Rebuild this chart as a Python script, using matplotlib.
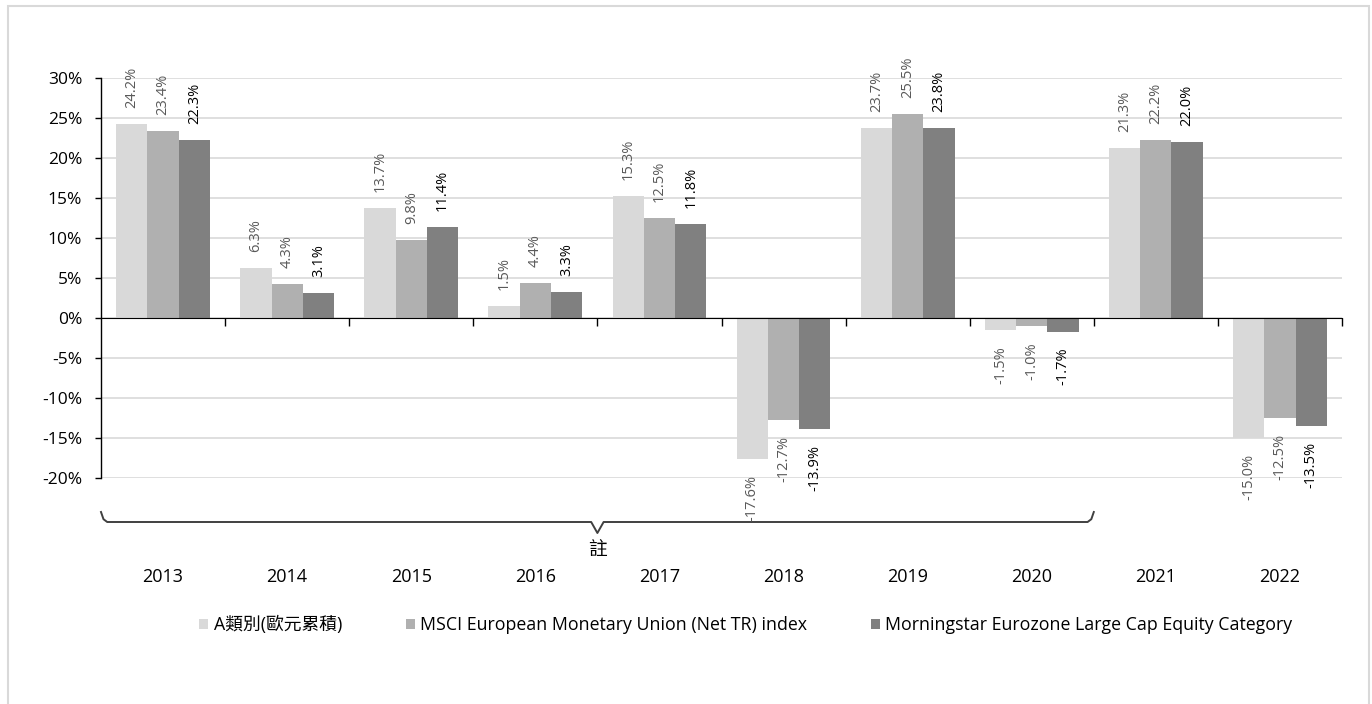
import numpy as np
import matplotlib.pyplot as plt
import matplotlib.transforms as mtransforms
from matplotlib.patches import Rectangle

plt.rcParams['font.family'] = ['Open Sans', 'Noto Sans CJK TC', 'DejaVu Sans']

years = ['2013', '2014', '2015', '2016', '2017', '2018', '2019', '2020', '2021', '2022']
fund_a = [24.2, 6.3, 13.7, 1.5, 15.3, -17.6, 23.7, -1.5, 21.3, -15.0]
msci = [23.4, 4.3, 9.8, 4.4, 12.5, -12.7, 25.5, -1.0, 22.2, -12.5]
morningstar = [22.3, 3.1, 11.4, 3.3, 11.8, -13.9, 23.8, -1.7, 22.0, -13.5]
series_names = ['A類別(歐元累積)', 'MSCI European Monetary Union (Net TR) index',
                'Morningstar Eurozone Large Cap Equity Category']
colors = ['#d9d9d9', '#b0b0b0', '#808080']
label_colors = ['#595959', '#595959', '#000000']

fig = plt.figure(figsize=(13.72, 7.04), dpi=100)
# light frame around the chart
fig.patches.append(Rectangle((8 / 1372, -0.01), 1361 / 1372, 1 - 6 / 704 + 0.01,
                             transform=fig.transFigure, fill=False,
                             edgecolor='#d9d9d9', lw=1.5))

ax = fig.add_axes([101 / 1372, 1 - 478 / 704, 1241 / 1372, 400 / 704])

x = np.arange(len(years))
w = 0.252
for i, (vals, name) in enumerate(zip([fund_a, msci, morningstar], series_names)):
    bars = ax.bar(x + (i - 1) * w, vals, width=w, color=colors[i], label=name, zorder=2)
    ax.bar_label(bars, labels=[f"{v:.1f}%" for v in vals], rotation=90, padding=11.5,
                 fontsize=10.5, color=label_colors[i])

ax.set_xlim(-0.5, len(years) - 0.5)
ax.set_ylim(-20, 30)
ax.set_yticks(np.arange(-20, 31, 5))
ax.set_yticklabels([f"{t}%" for t in range(-20, 31, 5)], fontsize=12.5)
ax.grid(axis='y', color='#d9d9d9', lw=1.2, zorder=0)
ax.set_axisbelow(True)

ax.spines['top'].set_visible(False)
ax.spines['right'].set_visible(False)
ax.spines['bottom'].set_position(('data', 0))
ax.spines['bottom'].set_zorder(3)
ax.spines['left'].set_linewidth(1.0)
ax.set_xticks(np.arange(0.5, len(years), 1))
ax.set_xticklabels([])
ax.tick_params(axis='x', direction='out', length=6, width=1)
ax.tick_params(axis='y', direction='out', length=4.5, width=1, pad=9)

# category labels under the plot area
tr = mtransforms.blended_transform_factory(ax.transData, fig.transFigure)
for i, yr in enumerate(years):
    ax.text(i, 1 - 577 / 704, yr, transform=tr, ha='center', va='center', fontsize=13)

# bracket with note under 2013-2020
y0 = 1 - 522 / 704
yh = 1 - 512 / 704
ytip = 1 - 533 / 704
xl, xr, xm = -0.5, 7.5, 3.5
ax.plot([xl, xl + 0.02, xl + 0.05, xm - 0.05, xm, xm + 0.05, xr - 0.05, xr - 0.02, xr],
        [yh, y0 + 0.004, y0, y0, ytip, y0, y0, y0 + 0.004, yh],
        transform=tr, color='#404040', lw=1.4, clip_on=False)
ax.text(xm, 1 - 550 / 704, '註', transform=tr, ha='center', va='center', fontsize=13.5)

fig.legend(loc='center', bbox_to_anchor=(746 / 1372, 1 - 625 / 704), ncol=3,
           frameon=False, fontsize=12.8, handlelength=0.5, handleheight=0.5,
           handletextpad=0.3, columnspacing=3.6)

fig.savefig('out.png', dpi=100)
